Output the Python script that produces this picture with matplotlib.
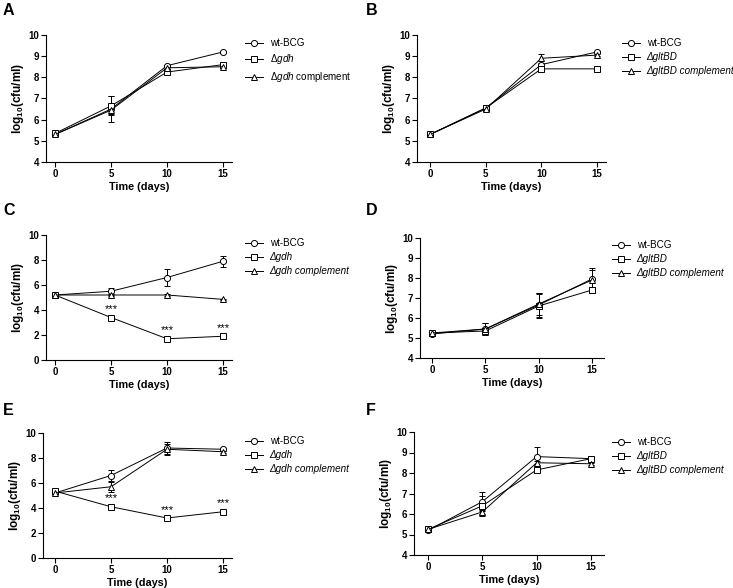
import matplotlib
matplotlib.use("Agg")
import matplotlib.pyplot as plt
from matplotlib.lines import Line2D

plt.rcParams["font.family"] = ["Liberation Sans", "DejaVu Sans"]
plt.rcParams["mathtext.fontset"] = "custom"
plt.rcParams["mathtext.rm"] = "Liberation Sans"
plt.rcParams["mathtext.it"] = "Liberation Sans:italic"
plt.rcParams["mathtext.bf"] = "Liberation Sans:bold"

# =========================
# data
# =========================
days = [0, 5, 10, 15]

# A: gdh
a_wt = [5.3, 6.5, 8.55, 9.2]
a_wt_err = [0.05, 0.6, 0.05, 0.05]
a_mut = [5.35, 6.65, 8.25, 8.6]
a_mut_err = [0.05, 0.45, 0.05, 0.05]
a_comp = [5.3, 6.45, 8.45, 8.5]
a_comp_err = [0.05, 0.2, 0.05, 0.05]

# B: gltBD
b_wt = [5.3, 6.55, 8.6, 9.2]
b_wt_err = [0.05, 0.1, 0.05, 0.05]
b_mut = [5.3, 6.55, 8.4, 8.4]
b_mut_err = [0.05, 0.15, 0.05, 0.05]
b_comp = [5.3, 6.5, 8.9, 9.05]
b_comp_err = [0.05, 0.1, 0.2, 0.05]

# C: gdh
c_wt = [5.2, 5.5, 6.6, 7.9]
c_wt_err = [0.05, 0.3, 0.7, 0.45]
c_mut = [5.2, 3.4, 1.7, 1.9]
c_mut_err = [0.05, 0.1, 0.05, 0.05]
c_comp = [5.2, 5.2, 5.2, 4.85]
c_comp_err = [0.05, 0.05, 0.05, 0.05]

# D: gltBD
d_wt = [5.2, 5.45, 6.65, 7.95]
d_wt_err = [0.05, 0.3, 0.6, 0.55]
d_mut = [5.25, 5.35, 6.6, 7.4]
d_mut_err = [0.05, 0.1, 0.6, 0.15]
d_comp = [5.25, 5.45, 6.7, 7.9]
d_comp_err = [0.05, 0.3, 0.55, 0.5]

# E: gdh
e_wt = [5.2, 6.6, 8.8, 8.7]
e_wt_err = [0.05, 0.45, 0.45, 0.1]
e_mut = [5.35, 4.1, 3.2, 3.7]
e_mut_err = [0.05, 0.05, 0.05, 0.05]
e_comp = [5.2, 5.7, 8.7, 8.5]
e_comp_err = [0.05, 0.4, 0.45, 0.1]

# F: gltBD
f_wt = [5.2, 6.6, 8.8, 8.7]
f_wt_err = [0.05, 0.45, 0.45, 0.05]
f_mut = [5.25, 6.4, 8.15, 8.7]
f_mut_err = [0.05, 0.5, 0.1, 0.1]
f_comp = [5.25, 6.1, 8.5, 8.45]
f_comp_err = [0.05, 0.1, 0.1, 0.05]

stars_days = [5, 10, 15]
stars_text = "***"

xticks = [0, 5, 10, 15]

W, H = 733, 588
fig = plt.figure(figsize=(W / 100, H / 100), dpi=100)


def make_ax(left, right, top, bottom, x0, x15, ymin, ymax, yticks):
    ax = fig.add_axes([left / W, 1 - bottom / H, (right - left) / W, (bottom - top) / H])
    s = (x15 - x0) / 15.0
    ax.set_xlim((left - x0) / s, (right - x0) / s)
    ax.set_ylim(ymin, ymax)
    ax.set_xticks(xticks)
    ax.set_yticks(yticks)
    for sp in ["top", "right"]:
        ax.spines[sp].set_visible(False)
    for sp in ["left", "bottom"]:
        ax.spines[sp].set_linewidth(0.8)
    ax.tick_params(direction="out", length=3.5, width=0.8, labelsize=7, pad=1.5)
    for lab in ax.get_xticklabels() + ax.get_yticklabels():
        lab.set_fontweight("bold")
    ax.set_xlabel("Time (days)", fontsize=7.8, fontweight="bold", labelpad=2)
    ax.set_ylabel(r"$\mathbf{log_{10}(cfu/ml)}$", fontsize=8.5, labelpad=2)
    return ax


def draw(ax, wt, wte, mut, mute, comp, compe, labels, legend_xy):
    kw = dict(color="black", lw=0.7, ms=4.4, mfc="white", mec="black", mew=0.7,
              elinewidth=0.7, capsize=2.2, capthick=0.7)
    handles = []
    for vals, errs, mk in [(wt, wte, "o"), (mut, mute, "s"), (comp, compe, "^")]:
        ax.errorbar(days, vals, yerr=errs, marker=mk, **kw)
        handles.append(Line2D([], [], color="black", lw=0.7, marker=mk, ms=4.4,
                              mfc="white", mec="black", mew=0.7))
    leg = fig.legend(handles, labels, loc="upper left",
                     bbox_to_anchor=(legend_xy[0] / W, 1 - legend_xy[1] / H),
                     frameon=False, fontsize=7.1, handlelength=1.8, handletextpad=0.7,
                     labelspacing=0.42, borderpad=0, borderaxespad=0)
    return leg


def stars(ax, mut):
    for d in stars_days:
        ax.annotate(stars_text, (d, mut[days.index(d)]), xytext=(0, 6),
                    textcoords="offset points", ha="center", va="center", fontsize=8)


def italic_labels(leg, which):
    texts = leg.get_texts()
    for i in which:
        texts[i].set_fontstyle("italic")


# A
axA = make_ax(46, 232, 35, 162, 55, 223, 4, 10, range(4, 11))
legA = draw(axA, a_wt, a_wt_err, a_mut, a_mut_err, a_comp, a_comp_err,
            ["wt-BCG", r"$\it{\Delta gdh}$", r"$\it{\Delta gdh}$ complement"], (245, 38))
# B
axB = make_ax(417, 606, 35, 162, 430, 597, 4, 10, range(4, 11))
legB = draw(axB, b_wt, b_wt_err, b_mut, b_mut_err, b_comp, b_comp_err,
            ["wt-BCG", "ΔgltBD", "ΔgltBD complement"], (622, 38))
italic_labels(legB, [1, 2])
# C
axC = make_ax(46, 232, 235, 360, 55, 223, 0, 10, range(0, 11, 2))
legC = draw(axC, c_wt, c_wt_err, c_mut, c_mut_err, c_comp, c_comp_err,
            ["wt-BCG", "Δgdh", "Δgdh complement"], (245, 238))
italic_labels(legC, [1, 2])
stars(axC, c_mut)
# D
axD = make_ax(420, 604, 238, 358, 432, 592, 4, 10, range(4, 11))
legD = draw(axD, d_wt, d_wt_err, d_mut, d_mut_err, d_comp, d_comp_err,
            ["wt-BCG", "ΔgltBD", "ΔgltBD complement"], (612, 240))
italic_labels(legD, [1, 2])
# E
axE = make_ax(43, 232, 433, 558, 55, 223, 0, 10, range(0, 11, 2))
legE = draw(axE, e_wt, e_wt_err, e_mut, e_mut_err, e_comp, e_comp_err,
            ["wt-BCG", "Δgdh", "Δgdh complement"], (245, 436))
italic_labels(legE, [1, 2])
stars(axE, e_mut)
# F
axF = make_ax(414, 604, 432, 555, 428, 591, 4, 10, range(4, 11))
legF = draw(axF, f_wt, f_wt_err, f_mut, f_mut_err, f_comp, f_comp_err,
            ["wt-BCG", "ΔgltBD", "ΔgltBD complement"], (612, 437))
italic_labels(legF, [1, 2])

# panel letters
for lab, (px, py) in zip("ABCDEF", [(3, 3), (366, 3), (3, 203), (366, 203), (3, 403), (366, 403)]):
    fig.text(px / W, 1 - py / H, lab, fontsize=11.5, fontweight="bold", va="top", ha="left")

fig.savefig("out.png", dpi=100)
